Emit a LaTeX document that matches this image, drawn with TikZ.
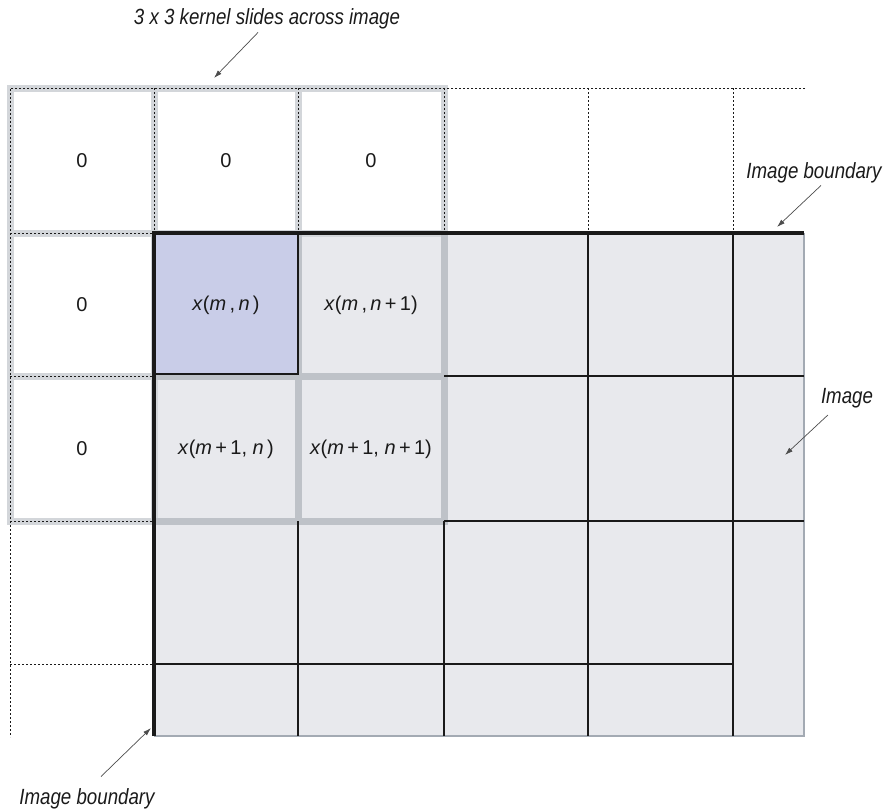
\documentclass[tikz,border=0pt]{standalone}
\usepackage{fontspec}
\setmainfont{Liberation Sans}
\newfontfamily\narrowsans[FakeStretch=0.85]{Liberation Sans}
\usetikzlibrary{arrows.meta}
\definecolor{ImageGray}{HTML}{E8E9ED}
\definecolor{KernelGray}{HTML}{BEC2C8}
\definecolor{KernelLight}{HTML}{D3D6DA}
\definecolor{CellBlue}{HTML}{C9CDE8}
\definecolor{EdgeGray}{HTML}{A3AAB3}
\definecolor{Ink}{HTML}{1A1A1A}

\begin{document}
\begin{tikzpicture}[x=1pt,y=-1pt,>={Latex[length=8pt,width=5pt]},
    every node/.style={font=\fontsize{20}{24}\selectfont,text=Ink},
    callout/.style={font=\narrowsans\itshape\fontsize{22}{26}\selectfont,inner sep=0pt},
    pointer/.style={->,draw=black!70,line width=0.7pt},
    kernelband/.style={line width=7pt,line cap=rect},
    padline/.style={draw=Ink,line width=1pt,dash pattern=on 2pt off 2pt},
    gridline/.style={draw=Ink,line width=1.2pt}]
      \useasboundingbox (0,0) rectangle (884,811);

      % image area
      \fill[ImageGray] (154,233) rectangle (804,736);
      \draw[EdgeGray,line width=1.5pt] (804,233) -- (804,736) -- (154,736);

      % 3 x 3 kernel
      \foreach \k in {10,154,298,444} {
        \draw[kernelband,KernelLight] (\k,88) -- (\k,521);
      }
      \foreach \k in {88,233,376,521} {
        \draw[kernelband,KernelLight] (10,\k) -- (444,\k);
      }
      \begin{scope}
        \clip (154,233) rectangle (804,736);
        \foreach \k in {298,444} {
          \draw[kernelband,KernelGray] (\k,233) -- (\k,521);
        }
        \foreach \k in {376,521} {
          \draw[kernelband,KernelGray] (154,\k) -- (444,\k);
        }
      \end{scope}

      % current pixel
      \fill[CellBlue] (154,233) rectangle (298,374);
      \draw[gridline] (298,233) -- (298,374) -- (154,374);

      % image grid
      \foreach \k in {298,444} {
        \draw[gridline] (\k,521) -- (\k,736);
      }
      \foreach \k in {588,733} {
        \draw[gridline] (\k,233) -- (\k,736);
      }
      \draw[gridline] (444,376) -- (804,376);
      \draw[gridline,line width=2pt] (444,521) -- (804,521);
      \draw[gridline] (154,664) -- (733,664);

      % zero padding
      \draw[padline] (805,88) -- (10,88) -- (10,737);
      \foreach \k in {154,298,444,588,733} {
        \draw[padline] (\k,88) -- (\k,233);
      }
      \foreach \k in {233,376,521,664} {
        \draw[padline] (10,\k) -- (154,\k);
      }

      % image boundary
      \draw[Ink,line width=4pt] (154,736) -- (154,231.25);
      \draw[Ink,line width=3.5pt] (152,233) -- (804,233);

      \foreach \cx/\cy [count=\i] in {82/161,226/161,371/161,82/305,82/449} {
        \node (zero\i) at (\cx,\cy) {0};
      }
      \node (xmn) at (226,305) {\textit{x}(\textit{m}\,,\,\textit{n}\,)};
      \node (xmnn) at (371,305) {\textit{x}(\textit{m}\,,\,\textit{n}\,+\,1)};
      \node (xmmn) at (226,449) {\textit{x}(\textit{m}\,+\,1, \textit{n}\,)};
      \node (xmmnn) at (371,449) {\textit{x}(\textit{m}\,+\,1, \textit{n}\,+\,1)};

      \node[callout] (kernellabel) at (267,19) {3 x 3 kernel slides across image};
      \node[callout] (boundlabel) at (814,173) {Image boundary};
      \node[callout] (imagelabel) at (847,398) {Image};
      \node[callout] (edgelabel) at (87,799) {Image boundary};
      \coordinate (kerneltip) at (214,78);
      \coordinate (boundtip) at (777,227);
      \coordinate (imagetip) at (785,455);
      \coordinate (edgetip) at (151,728);

      \draw[pointer] ([xshift=-9pt,yshift=-3pt]kernellabel.south) -- (kerneltip);
      \draw[pointer] ([xshift=7pt,yshift=-2pt]boundlabel.south) -- (boundtip);
      \draw[pointer] ([xshift=7pt,yshift=-7pt]imagelabel.south west) -- (imagetip);
      \draw[pointer] ([xshift=14pt,yshift=12pt]edgelabel.north) -- (edgetip);
    \end{tikzpicture}
\end{document}
